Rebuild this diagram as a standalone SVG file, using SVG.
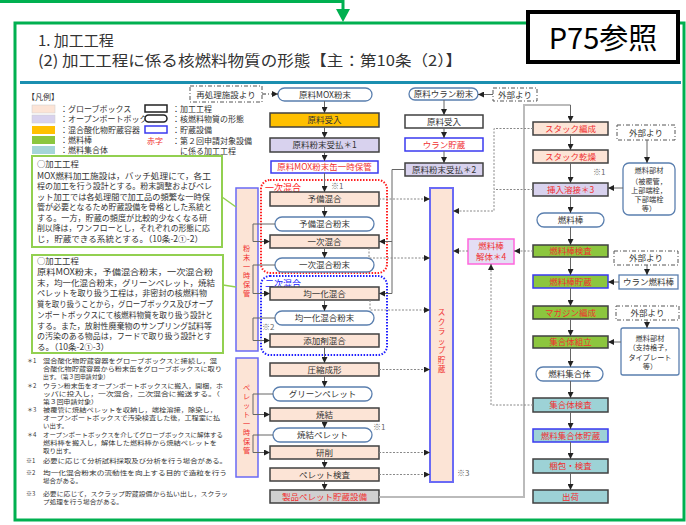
<svg xmlns="http://www.w3.org/2000/svg" width="686" height="525" viewBox="0 0 686 525">
<defs>
<style>
text{font-family:"Noto Sans CJK JP","Noto Sans",sans-serif;fill:#333}
.t{font-size:8.5px;text-anchor:middle}
.q{font-size:7.2px;text-anchor:middle}
.r{fill:#F03030}
.bx{stroke:#404040;stroke-width:1.5}
.gb{fill:#FCE4D6}
.op{fill:#D8D2EE}
.or{fill:#FFC000}
.gr{fill:#8CC63E}
.tl{fill:#9DD2D6}
.wh{fill:#fff}
.sb{stroke:#3A3AF0;stroke-width:1.5}
.pl{fill:#fff;stroke:#5A7FAF;stroke-width:1.3}
.ln{fill:none;stroke:#666;stroke-width:1}
.dt{fill:none;stroke:#888;stroke-width:1;stroke-dasharray:2 1.5}
.dd{fill:#fff;stroke:#555;stroke-width:1;stroke-dasharray:4 2 1 2}
.gn{fill:#fff;stroke:#92D050;stroke-width:2}
.p{font-size:8.4px}
.n{font-size:6px}
.lg{font-size:8px}
.v{font-size:7.2px;text-anchor:middle;fill:#F03030}
.s{font-size:8px;fill:#666}
</style>
<marker id="a" viewBox="0 0 6 6" refX="6" refY="3" markerWidth="6" markerHeight="6" markerUnits="userSpaceOnUse" orient="auto"><path d="M0,0L6,3L0,6z" fill="#222"/></marker>
</defs>
<rect width="686" height="525" fill="#fff"/>

<g id="frame">
<path d="M0,1.5H343V10" fill="none" stroke="#00B050" stroke-width="3"/>
<polygon points="336,9 350,9 343,22" fill="#00B050"/>
<rect x="15" y="23" width="669" height="497" fill="none" stroke="#00B050" stroke-width="3"/>
<rect x="20" y="81" width="661" height="3" fill="#1B8FB0"/>
</g>

<g id="title">
<text x="38" y="46" style="font-size:15px">1. 加工工程</text>
<text x="38" y="66" style="font-size:15px" textLength="424" lengthAdjust="spacingAndGlyphs">(2) 加工工程に係る核燃料物質の形態【主：第10条（2）】</text>
</g>
<g id="p75">
<rect x="528" y="12" width="150" height="50" fill="#fff" stroke="#000" stroke-width="4"/>
<text x="603" y="49" style="font-size:29px;text-anchor:middle;fill:#000">P75参照</text>
</g>

<g id="legend">
<text class="lg" x="27" y="100">【凡例】</text>
<rect x="32" y="105" width="23" height="8" class="gb" stroke="#ccc" stroke-width="0.5"/>
<rect x="32" y="115" width="23" height="8" class="op" stroke="#ccc" stroke-width="0.5"/>
<rect x="32" y="126" width="23" height="8" class="or"/>
<rect x="32" y="136" width="23" height="8" class="gr"/>
<rect x="32" y="146" width="23" height="8" fill="#A5D5D8"/>
<text class="lg" x="60" y="112">：グローブボックス</text>
<text class="lg" x="60" y="122">：オープンポートボックス</text>
<text class="lg" x="60" y="133">：混合酸化物貯蔵容器</text>
<text class="lg" x="60" y="143">：燃料棒</text>
<text class="lg" x="60" y="153">：燃料集合体</text>
<rect x="145" y="105" width="22" height="7" fill="#fff" stroke="#222" stroke-width="1.5"/>
<rect x="145" y="115" width="22" height="7" rx="3.5" fill="#fff" stroke="#222" stroke-width="1.5"/>
<rect x="145" y="126" width="22" height="7" fill="#fff" stroke="#3A3AF0" stroke-width="1.5"/>
<text class="lg" x="172" y="112">：加工工程</text>
<text class="lg" x="172" y="122">：核燃料物質の形態</text>
<text class="lg" x="172" y="133">：貯蔵設備</text>
<text class="lg r" x="147" y="144">赤字</text>
<text class="lg" x="172" y="144">：第２回申請対象設備</text>
<text class="lg" x="180" y="154">に係る加工工程</text>
</g>

<g id="textbox1">
<rect class="gn" x="32" y="156" width="190" height="91"/>
<text class="p" x="37" y="167">○加工工程</text>
<text class="p" x="37" y="178.5" textLength="174" lengthAdjust="spacingAndGlyphs">MOX燃料加工施設は，バッチ処理にて，各工</text>
<text class="p" x="37" y="189" textLength="175" lengthAdjust="spacingAndGlyphs">程の加工を行う設計とする。粉末調整およびペレ</text>
<text class="p" x="37" y="199.5" textLength="173" lengthAdjust="spacingAndGlyphs">ット加工では各処理間で加工品の頻繁な一時保</text>
<text class="p" x="37" y="210" textLength="175" lengthAdjust="spacingAndGlyphs">管が必要となるため貯蔵設備を骨格とした系統と</text>
<text class="p" x="37" y="220.5" textLength="170" lengthAdjust="spacingAndGlyphs">する。一方，貯蔵の頻度が比較的少なくなる研</text>
<text class="p" x="37" y="231" textLength="173" lengthAdjust="spacingAndGlyphs">削以降は，ワンフローとし，それぞれの形態に応</text>
<text class="p" x="37" y="241.5" textLength="166" lengthAdjust="spacingAndGlyphs">じ，貯蔵できる系統とする。（10条-2①-2）</text>
</g>

<g id="textbox2">
<rect class="gn" x="32" y="255" width="191" height="98"/>
<text class="p" x="37" y="264">○加工工程</text>
<text class="p" x="37" y="275" textLength="176" lengthAdjust="spacingAndGlyphs">原料MOX粉末，予備混合粉末，一次混合粉</text>
<text class="p" x="37" y="285.7" textLength="178" lengthAdjust="spacingAndGlyphs">末，均一化混合粉末，グリーンペレット，焼結</text>
<text class="p" x="37" y="296.4" textLength="170" lengthAdjust="spacingAndGlyphs">ペレットを取り扱う工程は，非密封の核燃料物</text>
<text class="p" x="37" y="307.1" textLength="176" lengthAdjust="spacingAndGlyphs">質を取り扱うことから，グローブボックス及びオープ</text>
<text class="p" x="37" y="317.8" textLength="176" lengthAdjust="spacingAndGlyphs">ンポートボックスにて核燃料物質を取り扱う設計と</text>
<text class="p" x="37" y="328.5" textLength="175" lengthAdjust="spacingAndGlyphs">する。また，放射性廃棄物のサンプリング試料等</text>
<text class="p" x="37" y="339.2" textLength="175" lengthAdjust="spacingAndGlyphs">の汚染のある物品は，フードで取り扱う設計とす</text>
<text class="p" x="37" y="349.9" textLength="72" lengthAdjust="spacingAndGlyphs">る。（10条-2①-3）</text>
</g>

<g id="notes">
<text class="n" x="27" y="362.5">＊1</text>
<text class="n" x="43" y="362.5" textLength="174" lengthAdjust="spacingAndGlyphs">混合酸化物貯蔵容器をグローブボックスと接続し，混</text>
<text class="n" x="43" y="370.5" textLength="179" lengthAdjust="spacingAndGlyphs">合酸化物貯蔵容器から粉末缶をグローブボックスに取り</text>
<text class="n" x="43" y="378.5" textLength="66" lengthAdjust="spacingAndGlyphs">出す。（第３回申請対象）</text>
<text class="n" x="27" y="387.5">＊2</text>
<text class="n" x="43" y="387.5" textLength="180" lengthAdjust="spacingAndGlyphs">ウラン粉末缶をオープンポートボックスに搬入，開梱，ホ</text>
<text class="n" x="43" y="395.5" textLength="177" lengthAdjust="spacingAndGlyphs">ッパに投入し，一次混合，二次混合に搬送する。（</text>
<text class="n" x="43" y="403.5" textLength="55" lengthAdjust="spacingAndGlyphs">第３回申請対象）</text>
<text class="n" x="27" y="412">＊3</text>
<text class="n" x="43" y="412" textLength="174" lengthAdjust="spacingAndGlyphs">被覆管に焼結ペレットを収納し，端栓溶接，除染し，</text>
<text class="n" x="43" y="420" textLength="177" lengthAdjust="spacingAndGlyphs">オープンポートボックスで汚染検査した後，工程室に払</text>
<text class="n" x="43" y="428" textLength="25" lengthAdjust="spacingAndGlyphs">い出す。</text>
<text class="n" x="27" y="436.5">＊4</text>
<text class="n" x="43" y="436.5" textLength="180" lengthAdjust="spacingAndGlyphs">オープンポートボックスを介してグローブボックスに解体する</text>
<text class="n" x="43" y="444.5" textLength="174" lengthAdjust="spacingAndGlyphs">燃料棒を搬入し，解体した燃料棒から焼結ペレットを</text>
<text class="n" x="43" y="452.5" textLength="32" lengthAdjust="spacingAndGlyphs">取り出す。</text>
<text class="n" x="26" y="463">※1</text>
<text class="n" x="43" y="463" textLength="184" lengthAdjust="spacingAndGlyphs">必要に応じて分析試料採取及び分析を行う場合がある。</text>
<text class="n" x="26" y="475">※2</text>
<text class="n" x="43" y="475" textLength="184" lengthAdjust="spacingAndGlyphs">均一化混合粉末の流動性を向上する目的で造粒を行う</text>
<text class="n" x="43" y="483" textLength="39" lengthAdjust="spacingAndGlyphs">場合がある。</text>
<text class="n" x="26" y="495.5">※3</text>
<text class="n" x="43" y="495.5" textLength="185" lengthAdjust="spacingAndGlyphs">必要に応じて，スクラップ貯蔵設備から払い出し，スクラッ</text>
<text class="n" x="43" y="503.5" textLength="80" lengthAdjust="spacingAndGlyphs">プ処理を行う場合がある。</text>
</g>

<g id="powder-storage">
<rect x="236" y="188" width="22" height="163" class="gb" stroke="#6A6AF5" stroke-width="1.5"/>
<text class="v"><tspan x="246.5" y="251">粉</tspan><tspan x="246.5" y="260">末</tspan><tspan x="246.5" y="269">一</tspan><tspan x="246.5" y="278">時</tspan><tspan x="246.5" y="287">保</tspan><tspan x="246.5" y="296">管</tspan></text>
</g>
<g id="pellet-storage">
<rect x="236" y="358" width="22" height="119" class="gb" stroke="#6A6AF5" stroke-width="1.5"/>
<text class="v"><tspan x="246.5" y="390">ペ</tspan><tspan x="246.5" y="399">レ</tspan><tspan x="246.5" y="408">ッ</tspan><tspan x="246.5" y="417">ト</tspan><tspan x="246.5" y="426">一</tspan><tspan x="246.5" y="435">時</tspan><tspan x="246.5" y="444">保</tspan><tspan x="246.5" y="453">管</tspan></text>
</g>
<g id="scrap-storage">
<rect x="430" y="188" width="23" height="294" class="gb" stroke="#6A6AF5" stroke-width="2"/>
<text class="v" style="font-size:7.6px"><tspan x="441.5" y="315">ス</tspan><tspan x="441.5" y="324.5">ク</tspan><tspan x="441.5" y="334">ラ</tspan><tspan x="441.5" y="343.5">ッ</tspan><tspan x="441.5" y="353">プ</tspan><tspan x="441.5" y="362.5">貯</tspan><tspan x="441.5" y="372">蔵</tspan></text>
</g>

<g id="group-primary">
<rect x="261" y="180" width="126" height="93" rx="9" fill="none" stroke="#FF2020" stroke-width="2" stroke-dasharray="1.5 1.5"/>
<text x="265" y="190.5" style="font-size:9px;fill:#FF2020">一次混合</text>
</g>
<g id="group-secondary">
<rect x="261" y="276" width="126" height="79" rx="9" fill="none" stroke="#2020FF" stroke-width="2" stroke-dasharray="1.5 1.5"/>
<text x="265" y="286.5" style="font-size:9px;fill:#2020FF">二次混合</text>
</g>

<g id="reprocess-src"><rect class="dd" x="190" y="86" width="72" height="16"/><text class="t" x="226" y="97.5">再処理施設より</text></g>
<g id="mox-powder"><rect class="pl" x="278" y="88" width="94" height="13" rx="6.5"/><text class="t" x="325" y="97.5">原料MOX粉末</text></g>
<g id="n-receive"><rect class="bx or" x="270" y="113" width="109" height="14"/><text class="t" x="324.5" y="123">原料受入</text></g>
<g id="n-powder-recv1"><rect class="bx op" x="270" y="138" width="109" height="14"/><text class="t" x="324.5" y="148">原料粉末受払＊1</text></g>
<g id="n-can-storage"><rect class="wh sb" x="271" y="161" width="107" height="12"/><text class="t r" x="324.5" y="170">原料MOX粉末缶一時保管</text></g>
<g id="n-premix"><rect class="bx gb" x="270" y="192" width="109" height="14"/><text class="t" x="324.5" y="202">予備混合</text></g>
<g id="f-premix"><rect class="pl" x="275" y="217" width="99" height="14" rx="7"/><text class="t" x="324.5" y="227">予備混合粉末</text></g>
<g id="n-primary"><rect class="bx gb" x="270" y="235" width="109" height="13"/><text class="t" x="324.5" y="244.5">一次混合</text></g>
<g id="f-primary"><rect class="pl" x="275" y="258" width="99" height="14" rx="7"/><text class="t" x="324.5" y="268">一次混合粉末</text></g>
<g id="n-homog"><rect class="bx gb" x="270" y="287" width="109" height="13"/><text class="t" x="324.5" y="296.5">均一化混合</text></g>
<g id="f-homog"><rect class="pl" x="275" y="311" width="99" height="14" rx="7"/><text class="t" x="324.5" y="321">均一化混合粉末</text></g>
<g id="n-additive"><rect class="bx gb" x="270" y="334" width="109" height="13"/><text class="t" x="324.5" y="343.5">添加剤混合</text></g>
<g id="n-press"><rect class="bx gb" x="270" y="363" width="109" height="13"/><text class="t" x="324.5" y="372.5">圧縮成形</text></g>
<g id="f-green"><rect class="pl" x="273" y="387" width="99" height="14" rx="7"/><text class="t" x="322.5" y="397">グリーンペレット</text></g>
<g id="n-sinter"><rect class="bx gb" x="270" y="408" width="109" height="13"/><text class="t" x="324.5" y="417.5">焼結</text></g>
<g id="f-sintered"><rect class="pl" x="273" y="428" width="99" height="14" rx="7"/><text class="t" x="322.5" y="438">焼結ペレット</text></g>
<g id="n-grind"><rect class="bx gb" x="270" y="446" width="109" height="13"/><text class="t" x="324.5" y="455.5">研削</text></g>
<g id="n-pellet-insp"><rect class="bx gb" x="270" y="468" width="109" height="13"/><text class="t" x="324.5" y="477.5">ペレット検査</text></g>
<g id="n-pellet-store"><rect class="bx" fill="#D0D0D0" x="270" y="490" width="109" height="13"/><text class="t r" x="324.5" y="499.5">製品ペレット貯蔵設備</text></g>

<g id="ext-u"><rect class="dd" x="493" y="88" width="44" height="13"/><text class="t" x="515" y="97.5">外部より</text></g>
<g id="u-powder"><rect class="pl" x="409" y="88" width="69" height="12" rx="6"/><text class="t" x="443.5" y="97">原料ウラン粉末</text></g>
<g id="u-receive"><rect class="bx wh" x="405" y="115" width="78" height="13"/><text class="t" x="444" y="124.5">原料受入</text></g>
<g id="u-storage"><rect class="wh sb" x="405" y="138" width="78" height="13"/><text class="t r" x="444" y="147.5">ウラン貯蔵</text></g>
<g id="u-recv2"><rect class="bx op" x="405" y="163" width="78" height="13"/><text class="t" x="444" y="172.5">原料粉末受払＊2</text></g>

<g id="r-stack"><rect class="bx gb" x="533" y="122" width="75" height="13"/><text class="t r" x="570.5" y="131.5">スタック編成</text></g>
<g id="r-dry"><rect class="bx gb" x="533" y="150" width="75" height="13"/><text class="t r" x="570.5" y="159.5">スタック乾燥</text></g>
<g id="r-weld"><rect class="bx op" x="533" y="183" width="75" height="13"/><text class="t r" x="570.5" y="192.5">挿入溶接＊3</text></g>
<g id="f-rod"><rect class="pl" x="537" y="213" width="67" height="14" rx="7"/><text class="t" x="570.5" y="223">燃料棒</text></g>
<g id="r-rod-insp"><rect class="bx gr" x="533" y="245" width="75" height="12"/><text class="t r" x="570.5" y="254">燃料棒検査</text></g>
<g id="r-rod-store"><rect class="gr sb" x="533" y="275" width="75" height="13"/><text class="t r" x="570.5" y="284.5">燃料棒貯蔵</text></g>
<g id="r-magazine"><rect class="bx gr" x="533" y="306" width="75" height="13"/><text class="t r" x="570.5" y="315.5">マガジン編成</text></g>
<g id="r-assemble"><rect class="bx gr" x="533" y="336" width="75" height="12"/><text class="t r" x="570.5" y="345">集合体組立</text></g>
<g id="f-assembly"><rect class="pl" x="536" y="367" width="67" height="14" rx="7"/><text class="t" x="569.5" y="377">燃料集合体</text></g>
<g id="r-asm-insp"><rect class="bx tl" x="533" y="398" width="75" height="14"/><text class="t r" x="570.5" y="408">集合体検査</text></g>
<g id="r-asm-store"><rect class="tl sb" x="533" y="429" width="75" height="13"/><text class="t r" x="570.5" y="438.5">燃料集合体貯蔵</text></g>
<g id="r-pack"><rect class="bx tl" x="533" y="459" width="75" height="14"/><text class="t r" x="570.5" y="469">梱包・検査</text></g>
<g id="r-ship"><rect class="bx tl" x="533" y="490" width="75" height="13"/><text class="t r" x="570.5" y="499.5">出荷</text></g>

<g id="rod-dismantle"><rect x="468" y="239" width="46" height="25" fill="#E4DEF4" stroke="#FF66DD" stroke-width="1.5"/><text class="t r" x="491" y="249">燃料棒</text><text class="t r" x="491" y="260">解体＊4</text></g>

<g id="ext-1"><rect class="dd" x="617" y="125" width="58" height="15"/><text class="t" x="646" y="135.5">外部より</text></g>
<g id="parts-1"><rect x="623" y="163" width="52" height="52" rx="6" class="pl"/>
<text class="q" x="649" y="173">燃料部材</text><text class="q" x="649" y="183.5">（被覆管，</text><text class="q" x="649" y="192.5">上部端栓，</text><text class="q" x="649" y="201.5">下部端栓</text><text class="q" x="649" y="210.5">等）</text></g>
<g id="ext-2"><rect class="dd" x="614" y="251" width="64" height="14"/><text class="t" x="646" y="261">外部より</text></g>
<g id="u-rod"><rect x="619" y="275" width="59" height="14" class="pl"/><text class="t" x="648.5" y="285">ウラン燃料棒</text></g>
<g id="ext-3"><rect class="dd" x="616" y="306" width="63" height="14"/><text class="t" x="647.5" y="316">外部より</text></g>
<g id="parts-2"><rect x="621" y="328" width="58" height="47" rx="2" class="pl"/>
<text class="q" x="650" y="340.5">燃料部材</text><text class="q" x="650" y="350">（支持格子，</text><text class="q" x="650" y="359.5">タイプレート</text><text class="q" x="650" y="369">等）</text></g>

<g id="marks">
<text class="s" x="331" y="189">※1</text>
<text class="s" x="262" y="330">※2</text>
<text class="s" x="373" y="430">※1</text>
<text class="s" x="457" y="476">※3</text>
<text class="s" x="593" y="175">※1</text>
</g>

<g id="connectors">
<path d="M262,94H278" fill="none" stroke="#333" stroke-width="1" stroke-dasharray="4 2 1 2" marker-end="url(#a)"/>
<path d="M493,94.5H478" class="ln" stroke="#333" marker-end="url(#a)"/>
<g class="ln" stroke="#333">
<path d="M324.5,101V113" marker-end="url(#a)"/>
<path d="M324.5,127V138" marker-end="url(#a)"/>
<path d="M324.5,152V161" marker-end="url(#a)"/>
<path d="M324.5,173V192" marker-end="url(#a)"/>
<path d="M324.5,206V217" marker-end="url(#a)"/>
<path d="M324.5,248V258" marker-end="url(#a)"/>
<path d="M324.5,300V311" marker-end="url(#a)"/>
<path d="M324.5,347V363" marker-end="url(#a)"/>
<path d="M324.5,376V387" marker-end="url(#a)"/>
<path d="M324.5,421V428" marker-end="url(#a)"/>
<path d="M324.5,459V468" marker-end="url(#a)"/>
<path d="M324.5,481V490" marker-end="url(#a)"/>
<path d="M444,100V115" marker-end="url(#a)"/>
<path d="M444,128V138" marker-end="url(#a)"/>
<path d="M444,151V163" marker-end="url(#a)"/>
<path d="M570.5,135V150" marker-end="url(#a)"/>
<path d="M570.5,163V183" marker-end="url(#a)"/>
<path d="M570.5,196V213" marker-end="url(#a)"/>
<path d="M570.5,227V245" marker-end="url(#a)"/>
<path d="M570.5,257V275" marker-end="url(#a)"/>
<path d="M570.5,288V306" marker-end="url(#a)"/>
<path d="M570.5,319V336" marker-end="url(#a)"/>
<path d="M570.5,348V367" marker-end="url(#a)"/>
<path d="M570.5,381V398" marker-end="url(#a)"/>
<path d="M570.5,412V429" marker-end="url(#a)"/>
<path d="M570.5,442V459" marker-end="url(#a)"/>
<path d="M570.5,473V490" marker-end="url(#a)"/>
</g>
<g class="ln">
<path d="M275,224H253V241.5H270" marker-end="url(#a)"/>
<path d="M275,265H253V293.5H270" marker-end="url(#a)"/>
<path d="M275,318H253V340.5H270" marker-end="url(#a)"/>
<path d="M273,394H253V414.5H270" marker-end="url(#a)"/>
<path d="M273,435H253V452.5H270" marker-end="url(#a)"/>
<path d="M405,169.5H392V293.5H379" marker-end="url(#a)"/>
<path d="M392,241.5H379" marker-end="url(#a)"/>
<path d="M647,140V163" marker-end="url(#a)"/>
<path d="M623,188H608" marker-end="url(#a)"/>
<path d="M647,265V275" marker-end="url(#a)"/>
<path d="M619,282H608" marker-end="url(#a)"/>
<path d="M647,320V328" marker-end="url(#a)"/>
<path d="M621,342H608" marker-end="url(#a)"/>
</g>
<path d="M379,497H524V105H570.5" fill="none" stroke="#BBBBBB" stroke-width="2"/>
<path d="M570.5,105V122" class="ln" stroke="#444" marker-end="url(#a)"/>
<g class="dt">
<path d="M379,199H430" marker-end="url(#a)"/>
<path d="M369,248V258H430" marker-end="url(#a)"/>
<path d="M370,300V310H430" marker-end="url(#a)"/>
<path d="M379,369.5H430" marker-end="url(#a)"/>
<path d="M379,452.5H430" marker-end="url(#a)"/>
<path d="M379,474.5H430" marker-end="url(#a)"/>
<path d="M533,128.5H494V211H453" marker-end="url(#a)"/>
<path d="M533,189.5H494"/>
<path d="M533,251H514" marker-end="url(#a)"/>
<path d="M468,251H453" marker-end="url(#a)"/>
<path d="M533,405H491V264" marker-end="url(#a)"/>
</g>
<path d="M222,197L236,207" stroke="#92D050" stroke-width="1.5"/>
<path d="M223,285L236,287" stroke="#92D050" stroke-width="1.5"/>
</g>
</svg>
